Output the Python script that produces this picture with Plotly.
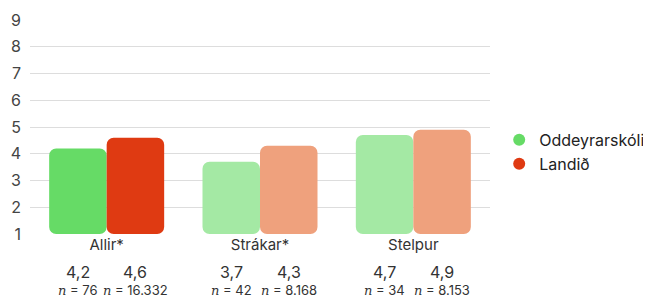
import plotly.graph_objects as go

categories = ["Allir*", "Strákar*", "Stelpur"]
school_values = [4.2, 3.7, 4.7]
country_values = [4.6, 4.3, 4.9]
school_n = ["76", "42", "34"]
country_n = ["16.332", "8.168", "8.153"]
series_names = ["Oddeyrarskóli", "Landið"]
y_ticks = [1, 2, 3, 4, 5, 6, 7, 8, 9]

school_colors = ["#66DB66", "#A4E9A4", "#A4E9A4"]
country_colors = ["#DF3A12", "#EFA17D", "#EFA17D"]

xpos = list(range(len(categories)))
base = 1

fig = go.Figure()
fig.add_trace(go.Bar(x=xpos, y=[v - base for v in school_values], base=base,
                     marker=dict(color=school_colors, line=dict(width=0)),
                     showlegend=False, hoverinfo="skip"))
fig.add_trace(go.Bar(x=xpos, y=[v - base for v in country_values], base=base,
                     marker=dict(color=country_colors, line=dict(width=0)),
                     showlegend=False, hoverinfo="skip"))
fig.add_trace(go.Scatter(x=[None], y=[None], mode="markers", name=series_names[0],
                         marker=dict(color="#66DB66", size=15, symbol="circle")))
fig.add_trace(go.Scatter(x=[None], y=[None], mode="markers", name=series_names[1],
                         marker=dict(color="#DF3A12", size=15, symbol="circle")))

half = 0.1875
for i in xpos:
    for dx, val, n in [(-half, school_values[i], school_n[i]), (half, country_values[i], country_n[i])]:
        fig.add_annotation(x=i + dx, xref="x", y=-0.178, yref="paper",
                           text=f"{val:.1f}".replace(".", ","), showarrow=False,
                           font=dict(size=16, color="#333333"), yanchor="middle")
        fig.add_annotation(x=i + dx, xref="x", y=-0.262, yref="paper",
                           text=f"<i style='font-family:DejaVu Serif'>n</i> = {n}", showarrow=False,
                           font=dict(size=13, color="#333333"), yanchor="middle")

fig.update_layout(
    width=643, height=292,
    margin=dict(l=22, r=161, t=12, b=66, autoexpand=False),
    paper_bgcolor="white", plot_bgcolor="white",
    font=dict(family="Inter, sans-serif", color="#333333", size=15),
    barmode="group", bargap=0.25, bargroupgap=0, barcornerradius=7,
    xaxis=dict(range=[-0.5, 2.5], tickvals=xpos, ticktext=categories,
               showgrid=False, zeroline=False, showline=False, ticks="",
               tickfont=dict(size=15, color="#333333"), automargin=False),
    yaxis=dict(range=[1, 9], tickvals=y_ticks, showgrid=True, gridcolor="#DDDDDD",
               gridwidth=1, zeroline=False, showline=False, ticks="",
               tickfont=dict(size=16, color="#444444"), ticklabelstandoff=8,
               automargin=False),
    legend=dict(x=1.02, y=0.519, xanchor="left", yanchor="top",
                font=dict(size=16, color="#222222"), itemsizing="constant",
                tracegroupgap=4),
)

fig.write_html("out.html")
